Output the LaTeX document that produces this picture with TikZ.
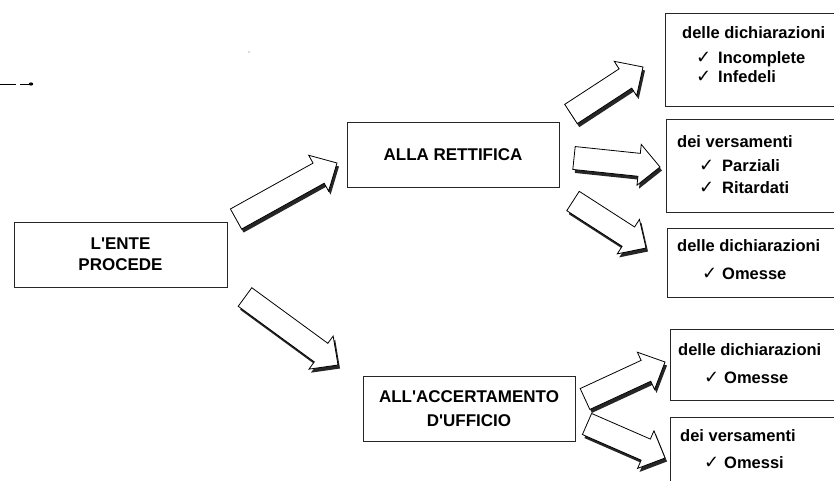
\documentclass[tikz,border=0pt]{standalone}
\usepackage{fontspec}
\setmainfont{Liberation Sans}[Ligatures=TeXOff]
\newfontfamily\chkfont{DejaVu Sans}
\usetikzlibrary{calc}
\tikzset{
 box/.style={draw=black!85, line width=1pt, fill=white, inner sep=0pt},
 capt/.style={font=\fontsize{17}{21}\selectfont\bfseries, align=center, inner sep=0pt},
 rtxt/.style={font=\fontsize{16.5}{18}\selectfont\bfseries, anchor=base west, inner sep=0pt},
 chk/.style={font=\chkfont\fontsize{18}{20}\selectfont, anchor=base west, inner sep=0pt},
 arrowbody/.style={draw=black, line width=0.8pt, fill=white, line join=miter},
 arrowshadow/.style={fill=black!85, transform canvas={xshift=2pt,yshift=-3.5pt}},
}
\newcommand{\barrow}[2]{%
 \coordinate (#1-h) at ($(#2)!21pt!(#1)$);
 \coordinate (#1-1) at ($(#1)!11.5pt!90:(#2)$);
 \coordinate (#1-2) at ($(#1-h)!11.5pt!90:(#2)$);
 \coordinate (#1-3) at ($(#1-h)!20.5pt!90:(#2)$);
 \coordinate (#1-4) at ($(#1-h)!20.5pt!-90:(#2)$);
 \coordinate (#1-5) at ($(#1-h)!11.5pt!-90:(#2)$);
 \coordinate (#1-6) at ($(#1)!11.5pt!-90:(#2)$);
 \fill[arrowshadow] (#1-1) -- (#1-2) -- (#1-3) -- (#2) -- (#1-4) -- (#1-5) -- (#1-6) -- cycle;
 \filldraw[arrowbody] (#1-1) -- (#1-2) -- (#1-3) -- (#2) -- (#1-4) -- (#1-5) -- (#1-6) -- cycle;
}
\begin{document}
\begin{tikzpicture}[x=1pt,y=-1pt]
\useasboundingbox (0,0) rectangle (834,481);
\clip (0,0) rectangle (834,481);
\fill[white] (0,0) rectangle (834,481);

% stray mark at left
\coordinate (m0) at (0,84);
\coordinate (m1) at (16,84);
\coordinate (m2) at (20,84);
\coordinate (m3) at (31,84);
\draw[line width=0.7pt] (m0) -- (m1);
\draw[line width=0.9pt] (m2) -- (m3);
\fill (m3) ellipse (2.2 and 1.6);
\fill[black!60] (249,52) circle (0.6);

% central boxes
\node[box, capt, minimum width=213pt, minimum height=65pt] (ente) at (120.5,254.5) {L'ENTE\\PROCEDE};
\node[box, capt, minimum width=212pt, minimum height=64pt] (rett) at (453,155) {ALLA RETTIFICA};
\node[box, capt, font=\fontsize{17}{24}\selectfont\bfseries, minimum width=212pt, minimum height=65pt] (acc) at (469,408.5) {ALL'ACCERTAMENTO\\D'UFFICIO};

% right boxes
\node[box, anchor=north west, minimum width=200pt, minimum height=93pt] (b1) at (665,13) {};
\node[box, anchor=north west, minimum width=200pt, minimum height=93pt] (b2) at (666,119) {};
\node[box, anchor=north west, minimum width=200pt, minimum height=69pt] (b3) at (667,228) {};
\node[box, anchor=north west, minimum width=200pt, minimum height=71pt] (b4) at (670,329) {};
\node[box, anchor=north west, minimum width=200pt, minimum height=100pt] (b5) at (670,417) {};

% texts in right boxes
\node[rtxt] (t1) at (682,39) {delle dichiarazioni};
\node[chk] (c11) at (696,64) {✓};
\node[rtxt] (t11) at (718,64) {Incomplete};
\node[chk] (c12) at (696,83) {✓};
\node[rtxt] (t12) at (718,83) {Infedeli};

\node[rtxt] (t2) at (677,148) {dei versamenti};
\node[chk] (c21) at (699,171.5) {✓};
\node[rtxt] (t21) at (722,171.5) {Parziali};
\node[chk] (c22) at (699,193) {✓};
\node[rtxt] (t22) at (722,193) {Ritardati};

\node[rtxt] (t3) at (677,251.5) {delle dichiarazioni};
\node[chk] (c31) at (702,279) {✓};
\node[rtxt] (t31) at (722,279) {Omesse};

\node[rtxt] (t4) at (678,355) {delle dichiarazioni};
\node[chk] (c41) at (704,383) {✓};
\node[rtxt] (t41) at (724,383) {Omesse};

\node[rtxt] (t5) at (680,441.5) {dei versamenti};
\node[chk] (c51) at (704,468) {✓};
\node[rtxt] (t51) at (724,468) {Omessi};

% block arrows
\coordinate (a1) at (236,219); \coordinate (a1e) at (337,163);
\coordinate (a2) at (245,297); \coordinate (a2e) at (338,365);
\coordinate (aA) at (571,114); \coordinate (aAe) at (643,67);
\coordinate (aB) at (574,158); \coordinate (aBe) at (660,167);
\coordinate (aC) at (573,201); \coordinate (aCe) at (646,248);
\coordinate (aD) at (585,399); \coordinate (aDe) at (665,362);
\coordinate (aE) at (587,424); \coordinate (aEe) at (665,458);
\barrow{a1}{a1e}
\barrow{a2}{a2e}
\barrow{aA}{aAe}
\barrow{aB}{aBe}
\barrow{aC}{aCe}
\barrow{aD}{aDe}
\barrow{aE}{aEe}
\end{tikzpicture}
\end{document}
